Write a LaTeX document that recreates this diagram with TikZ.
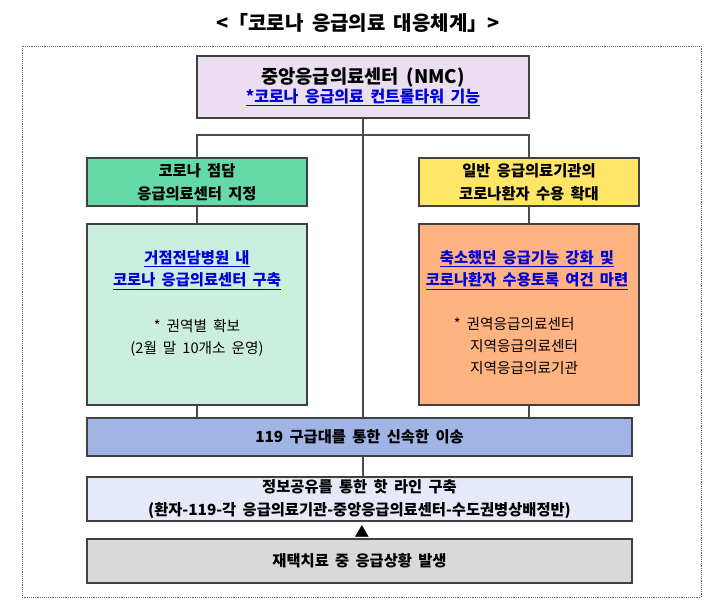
\documentclass[tikz,border=0pt]{standalone}
\usepackage{fontspec}
\setmainfont{Noto Sans CJK KR}[WordSpace={1.8}]
\begin{document}
\begin{tikzpicture}[x=0.75pt,y=-0.75pt,
  bx/.style={draw=black!75,line width=1pt,align=center,inner sep=0pt},
  ln/.style={draw=black!70,line width=0.8pt},
  bf/.style={font=\fontsize{11.5}{17}\selectfont\bfseries},
  nf/.style={font=\fontsize{11}{16.5}\selectfont},
  lk/.style={text=blue!85!black}]
\useasboundingbox (0,0) rectangle (709,604);
\node[font=\fontsize{15}{17}\selectfont\bfseries] (title) at (358,23) {<「코로나 응급의료 대응체계」>};
\draw[densely dotted,black!60] (22,46) rectangle (701,597);
\node[bx,fill={rgb,255:red,234;green,222;blue,240},minimum width=332*0.75pt,minimum height=62*0.75pt,font=\bfseries] (nmc) at (363,87) {\fontsize{14}{20}\selectfont 중앙응급의료센터 (NMC)\\\fontsize{12}{17}\selectfont\color{blue!85!black}\underline{*코로나 응급의료 컨트롤타워 기능}};
\node[bx,bf,fill={rgb,255:red,102;green,217;blue,168},minimum width=220*0.75pt,minimum height=48*0.75pt] (g1) at (197,182) {코로나 점담\\응급의료센터 지정};
\node[bx,bf,fill={rgb,255:red,255;green,230;blue,102},minimum width=220*0.75pt,minimum height=48*0.75pt] (y1) at (529,182) {일반 응급의료기관의\\코로나환자 수용 확대};
\node[bx,fill={rgb,255:red,204;green,238;blue,222},minimum width=220*0.75pt,minimum height=181*0.75pt] (g2) at (197,314.5) {};
\node[bx,fill={rgb,255:red,255;green,179;blue,128},minimum width=220*0.75pt,minimum height=181*0.75pt] (y2) at (529,314.5) {};
\node[align=center,bf,lk] (g2a) at (197,270) {\underline{거점전담병원 내}\\\underline{코로나 응급의료센터 구축}};
\node[align=center,nf] (g2b) at (197,338) {* 권역별 확보\\(2월 말 10개소 운영)};
\node[align=center,bf,lk] (y2a) at (527,270) {\underline{축소했던 응급기능 강화 및}\\\underline{코로나환자 수용토록 여건 마련}};
\node[align=left,nf] (y2b) at (516,346) {*~권역응급의료센터\\\hspace{1.1em}지역응급의료센터\\\hspace{1.1em}지역응급의료기관};
\node[bx,bf,fill={rgb,255:red,160;green,180;blue,230},minimum width=545*0.75pt,minimum height=38*0.75pt] (b119) at (359.5,437) {119 구급대를 통한 신속한 이송};
\node[bx,bf,fill={rgb,255:red,230;green,234;blue,248},minimum width=545*0.75pt,minimum height=44*0.75pt] (info) at (359.5,499) {정보공유를 통한 핫 라인 구축\\(환자-119-각 응급의료기관-중앙응급의료센터-수도권병상배정반)};
\node[font=\fontsize{11}{12}\selectfont] (tri) at (362,531) {▲};
\node[bx,bf,fill={rgb,255:red,217;green,217;blue,217},minimum width=545*0.75pt,minimum height=44*0.75pt] (grey) at (359.5,561) {재택치료 중 응급상황 발생};
\coordinate (cl) at (197,135); \coordinate (cr) at (529,135); \coordinate (cm) at (363,135);
\draw[ln] (nmc.south -| cm) -- (cm);
\draw[ln] (cm) -- (b119.north -| cm);
\draw[ln] (g1.north) -- (cl) -- (cr) -- (y1.north);
\draw[ln] (g1.south) -- (g2.north);
\draw[ln] (y1.south) -- (y2.north);
\draw[ln] (g2.south) -- (b119.north -| g2.south);
\draw[ln] (y2.south) -- (b119.north -| y2.south);
\draw[ln] (b119.south -| cm) -- (info.north -| cm);
\end{tikzpicture}
\end{document}
